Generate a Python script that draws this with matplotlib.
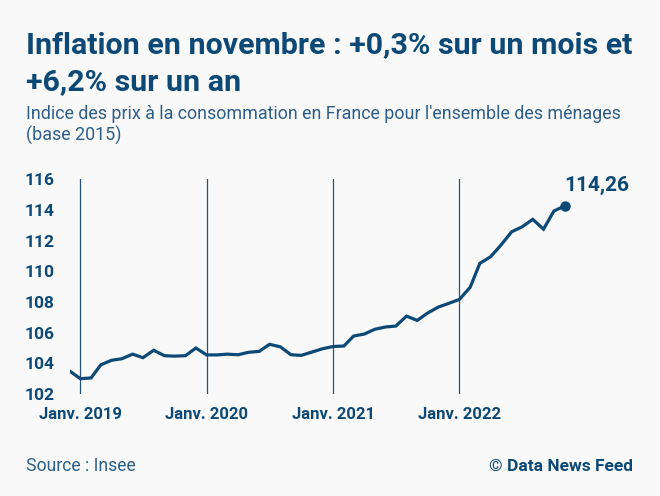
import numpy as np
import pandas as pd
import matplotlib
matplotlib.use('Agg')
import matplotlib.pyplot as plt

# Indice des prix a la consommation, base 2015, dec. 2018 -> nov. 2022
values = [103.50,
          103.00, 103.05, 103.90, 104.20, 104.30, 104.60, 104.37, 104.85, 104.50, 104.47, 104.50, 105.00,
          104.55, 104.55, 104.60, 104.56, 104.72, 104.78, 105.24, 105.08, 104.56, 104.52, 104.74, 104.95,
          105.10, 105.13, 105.78, 105.91, 106.22, 106.37, 106.43, 107.08, 106.80, 107.28, 107.67, 107.91,
          108.17, 108.96, 110.52, 110.95, 111.71, 112.58, 112.90, 113.39, 112.75, 113.93, 114.26]
dates = pd.date_range('2018-12-01', periods=len(values), freq='MS')

year_ticks = pd.to_datetime(['2019-01-01', '2020-01-01', '2021-01-01', '2022-01-01'])
year_labels = ['Janv. 2019', 'Janv. 2020', 'Janv. 2021', 'Janv. 2022']
y_ticks = [102, 104, 106, 108, 110, 112, 114, 116]
last_label = '114,26'

title_1 = 'Inflation en novembre : +0,3% sur un mois et'
title_2 = '+6,2% sur un an'
subtitle_1 = "Indice des prix à la consommation en France pour l'ensemble des ménages"
subtitle_2 = '(base 2015)'

dark = '#0c4976'
light = '#2d5e89'
bg = '#f9f9f9'

plt.rcParams['font.family'] = ['Roboto', 'DejaVu Sans']

fig = plt.figure(figsize=(6.6, 4.96), dpi=100, facecolor=bg)
ax = fig.add_axes([0.1055, 0.2056, 0.849, 0.4329], facecolor=bg)

# lignes verticales a chaque janvier
for d in year_ticks:
    ax.axvline(d, color='#22527c', linewidth=0.9, zorder=1)

ax.plot(dates, values, color=dark, linewidth=2.3, solid_joinstyle='miter', zorder=3)
ax.plot(dates[-1], values[-1], 'o', color=dark, markersize=6.5, zorder=4, clip_on=False)
ax.annotate(last_label, (dates[-1], values[-1]), xytext=(0, 11), textcoords='offset points',
            ha='left', va='baseline', fontsize=15, fontweight='bold', color=dark)

ax.set_xlim(pd.Timestamp('2018-12-01'), pd.Timestamp('2023-05-09'))
ax.set_ylim(102, 116)
ax.set_yticks(y_ticks)
ax.set_yticklabels([str(v) for v in y_ticks], fontsize=12.5, fontweight='bold', color=dark)
ax.set_xticks(year_ticks)
ax.set_xticklabels(year_labels, fontsize=12, fontweight='bold', color=dark)
ax.tick_params(axis='y', length=0, pad=11)
ax.tick_params(axis='x', length=0, pad=9)
for s in ax.spines.values():
    s.set_visible(False)

fig.text(26 / 660, 1 - 53.3 / 496, title_1, fontsize=21.9, fontweight='bold', color=dark, va='baseline')
fig.text(26 / 660, 1 - 90 / 496, title_2, fontsize=21.9, fontweight='bold', color=dark, va='baseline')
fig.text(26 / 660, 1 - 119.3 / 496, subtitle_1, fontsize=12.9, color=light, va='baseline')
fig.text(26 / 660, 1 - 140.7 / 496, subtitle_2, fontsize=12.9, color=light, va='baseline')
fig.text(26 / 660, 1 - 471 / 496, 'Source : Insee', fontsize=12.7, color=light, va='baseline')
fig.text(633 / 660, 1 - 471 / 496, '© Data News Feed', fontsize=12.5, fontweight='bold', color=dark,
         va='baseline', ha='right')

fig.savefig('out.png', dpi=100, facecolor=bg)
